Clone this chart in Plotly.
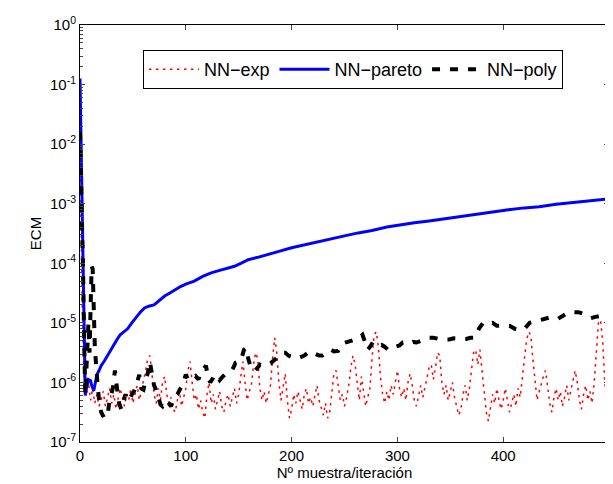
import plotly.graph_objects as go

# ---- data (ECM values stored as base-10 exponents) ----
exp_ecm_log = [
    -2.0, -4.6, -6.1, -6.2, -6.0, -6.3, -6.1, -6.35, -6.2, -6.4,
    -6.3, -6.15, -6.4, -6.25, -6.1, -6.35, -6.2, -6.45, -6.3, -6.1,
    -6.25, -6.4, -6.2, -6.3, -6.1, -6.35, -6.2, -6.05, -6.3, -6.15,
    -6.0, -5.8, -5.6, -5.55, -5.85, -6.2, -6.35, -6.1, -6.3, -6.0,
    -5.9, -6.2, -6.35, -6.25, -6.45, -6.5, -6.3, -6.15, -6.4, -6.25,
    -6.1, -5.8, -5.65, -6.0, -6.3, -6.2, -6.45, -6.3, -6.5, -6.6,
    -6.2, -6.0, -6.35, -6.2, -6.45, -6.3, -6.15, -6.4, -6.5, -6.3,
    -6.2, -6.4, -6.25, -6.1, -6.35, -6.2, -5.9, -5.65, -6.0, -6.3,
    -6.15, -6.05, -5.7, -5.5, -5.6, -6.1, -6.3, -6.15, -6.35, -6.2,
    -6.05, -5.6, -5.25, -5.5, -6.0, -6.3, -6.1, -5.85, -6.3, -6.6,
    -6.45, -6.2, -6.35, -6.15, -6.3, -6.45, -6.2, -6.1, -6.35, -6.25,
    -6.4, -6.2, -6.05, -6.3, -6.45, -6.55, -6.35, -6.6, -6.5, -6.2,
    -5.85, -5.8, -6.1, -6.3, -6.2, -6.4, -6.25, -6.05, -5.75, -5.55,
    -5.7, -6.0, -6.3, -5.9, -6.2, -6.4, -6.25, -6.1, -5.6, -5.2,
    -5.15, -5.4, -5.9, -6.2, -6.35, -6.15, -6.3, -6.05, -6.2, -6.0,
    -5.8, -6.1, -6.25, -6.1, -6.3, -6.0, -5.85, -6.05, -6.3, -6.4,
    -6.2, -6.05, -6.25, -6.1, -5.9, -5.75, -5.7, -5.95, -5.75, -5.5,
    -5.55, -6.0, -6.2, -6.05, -6.3, -6.15, -6.0, -6.25, -6.4, -6.55,
    -6.45, -6.2, -6.05, -6.3, -6.1, -5.8, -5.5, -5.45, -5.7, -5.45,
    -5.8, -6.15, -6.5, -6.65, -6.4, -6.2, -6.35, -6.1, -6.3, -6.45,
    -6.3, -6.1, -6.3, -6.5, -6.35, -6.2, -6.4, -6.1, -6.25, -5.9,
    -5.6, -5.3, -5.15, -5.2, -5.6, -6.0, -6.3, -6.15, -6.0, -5.9,
    -5.8, -6.1, -6.35, -6.5, -6.25, -6.1, -6.3, -6.15, -6.4, -6.25,
    -6.05, -6.3, -6.15, -5.95, -5.8, -6.0, -6.3, -6.45, -6.2, -6.05,
    -6.3, -6.15, -6.35, -6.0, -5.5, -5.0, -4.95, -5.3, -6.0, -6.4,
    -6.3,
]
exp_iter = list(range(0, 2 * len(exp_ecm_log), 2))

pareto_iter = [0, 1, 2, 3, 4, 5, 6, 7, 8, 10, 11, 13, 14, 16, 18, 20, 23, 26,
               29, 32, 35, 38, 41, 45, 49, 53, 57, 61, 65, 70, 75, 80, 85, 89,
               95, 100, 108, 116, 124, 132, 140, 146, 152, 159, 168, 177, 188,
               200, 212, 225, 238, 250, 263, 276, 290, 303, 316, 330, 345, 360,
               377, 390, 405, 420, 434, 450, 466, 483, 500]
pareto_ecm_log = [-0.9, -1.9, -2.75, -3.9, -5.3, -6.22, -6.1, -6.0, -5.95, -5.97,
                  -6.05, -6.14, -6.05, -5.87, -5.8, -5.72, -5.64, -5.55, -5.45,
                  -5.35, -5.28, -5.2, -5.15, -5.1, -5.0, -4.9, -4.82, -4.75, -4.72,
                  -4.7, -4.62, -4.55, -4.5, -4.45, -4.39, -4.35, -4.3, -4.22, -4.16,
                  -4.12, -4.08, -4.05, -4.0, -3.94, -3.9, -3.86, -3.8, -3.74, -3.69,
                  -3.64, -3.58, -3.54, -3.49, -3.45, -3.39, -3.35, -3.32, -3.29,
                  -3.25, -3.22, -3.17, -3.13, -3.1, -3.07, -3.05, -3.01, -2.98,
                  -2.95, -2.92]

poly_iter = [0, 1, 2, 3, 4, 5, 6, 7, 8, 9, 10, 11, 12, 13, 14, 16, 18, 20, 23, 26,
             28, 31, 33, 35, 37, 39, 41, 43, 45, 47, 49, 51, 54, 56, 58, 60, 62,
             64, 66, 68, 70, 73, 76, 78, 81, 84, 86, 89, 92, 95, 97, 100, 102, 104,
             107, 109, 112, 114, 117, 119, 121, 123, 125, 127, 130, 132, 135, 137,
             140, 143, 145, 147, 150, 152, 155, 157, 159, 161, 163, 165, 168, 170,
             173, 176, 180, 184, 188, 191, 194, 197, 201, 204, 208, 212, 217, 220,
             223, 226, 229, 233, 237, 240, 244, 247, 249, 253, 256, 260, 264, 267,
             270, 272, 275, 277, 280, 282, 285, 288, 291, 294, 298, 302, 305, 308,
             312, 315, 318, 322, 326, 330, 334, 338, 342, 346, 349, 353, 357, 361,
             365, 369, 373, 377, 381, 386, 390, 394, 397, 401, 406, 411, 416, 420,
             425, 430, 436, 441, 446, 452, 457, 462, 467, 471, 476, 480, 483, 487,
             491, 496, 500]
poly_ecm_log = [-1.8, -2.5, -3.3, -4.2, -5.4, -6.2, -5.8, -5.3, -5.0, -5.5, -4.6,
                -4.05, -4.1, -4.8, -5.4, -5.9, -6.3, -6.5, -6.6, -6.55, -6.3, -6.1,
                -5.8, -6.1, -6.35, -6.45, -6.3, -6.2, -6.3, -6.3, -6.2, -6.15, -6.0,
                -5.87, -6.1, -6.12, -5.95, -5.85, -5.65, -5.9, -6.05, -6.17, -6.37,
                -6.4, -6.3, -6.35, -6.4, -6.26, -6.2, -6.1, -6.05, -5.87, -5.95,
                -5.96, -5.9, -5.89, -5.95, -5.84, -5.75, -5.72, -5.9, -6.0, -5.95,
                -5.87, -5.9, -5.96, -5.9, -5.87, -5.85, -5.81, -5.75, -5.67, -5.65,
                -5.64, -5.45, -5.42, -5.6, -5.72, -5.78, -5.81, -5.75, -5.7, -5.72,
                -5.7, -5.68, -5.62, -5.55, -5.5, -5.5, -5.55, -5.58, -5.6, -5.58,
                -5.55, -5.48, -5.5, -5.52, -5.55, -5.55, -5.5, -5.45, -5.48, -5.47,
                -5.38, -5.34, -5.32, -5.31, -5.28, -5.25, -5.2, -5.35, -5.45, -5.38,
                -5.32, -5.35, -5.38, -5.37, -5.4, -5.45, -5.45, -5.4, -5.38, -5.33,
                -5.33, -5.35, -5.32, -5.33, -5.3, -5.27, -5.25, -5.25, -5.27, -5.28,
                -5.28, -5.28, -5.26, -5.27, -5.27, -5.27, -5.25, -5.25, -5.1, -5.0,
                -5.02, -5.0, -5.05, -5.05, -5.06, -5.05, -5.1, -5.12, -5.1, -5.0,
                -4.98, -4.95, -4.92, -4.9, -4.93, -4.88, -4.82, -4.82, -4.82, -4.85,
                -4.9, -4.92, -4.9, -4.88, -4.87, -4.9]

y_tick_exponents = [-7, -6, -5, -4, -3, -2, -1, 0]
x_tick_values = [0, 100, 200, 300, 400, 500]

FONT = "Liberation Sans, Arial, Helvetica, sans-serif"

fig = go.Figure()
fig.add_trace(go.Scatter(
    x=exp_iter, y=[10 ** v for v in exp_ecm_log], mode="lines", name="NN\u2212exp",
    line=dict(color="#ff0000", width=1.5, dash="2.5px,4.5px")))
fig.add_trace(go.Scatter(
    x=pareto_iter, y=[10 ** v for v in pareto_ecm_log], mode="lines", name="NN\u2212pareto",
    line=dict(color="#0000ff", width=3)))
fig.add_trace(go.Scatter(
    x=poly_iter, y=[10 ** v for v in poly_ecm_log], mode="lines", name="NN\u2212poly",
    line=dict(color="#000000", width=4, dash="8px,10px")))

fig.update_layout(
    width=613, height=484,
    margin=dict(l=72, r=12, t=17, b=50),
    paper_bgcolor="white", plot_bgcolor="white",
    font=dict(family=FONT, size=15, color="black"),
    showlegend=True,
    legend=dict(
        orientation="h", x=0.119, y=0.94, xanchor="left", yanchor="top",
        bordercolor="black", borderwidth=1, bgcolor="white",
        font=dict(family=FONT, size=18, color="black"),
        itemwidth=50,
    ),
)
fig.update_xaxes(
    range=[0, 500], tickvals=x_tick_values, ticks="inside", ticklen=5,
    showline=True, linecolor="black", linewidth=1, mirror="ticks",
    showgrid=False, zeroline=False, automargin=False,
    tickfont=dict(size=15),
    title=dict(text="N\u00ba muestra/iteraci\u00f3n", standoff=4, font=dict(size=15)),
)
fig.update_yaxes(
    type="log", range=[-7, 0],
    tickvals=[10 ** e for e in y_tick_exponents],
    ticktext=["10<sup>%d</sup>" % e for e in y_tick_exponents],
    ticks="inside", ticklen=5,
    minor=dict(ticks="inside", ticklen=3, dtick="D1", showgrid=False),
    showline=True, linecolor="black", linewidth=1, mirror="ticks",
    showgrid=False, zeroline=False, automargin=False,
    tickfont=dict(size=15),
    title=dict(text="ECM", standoff=4, font=dict(size=15)),
)

fig.write_html("out.html")
